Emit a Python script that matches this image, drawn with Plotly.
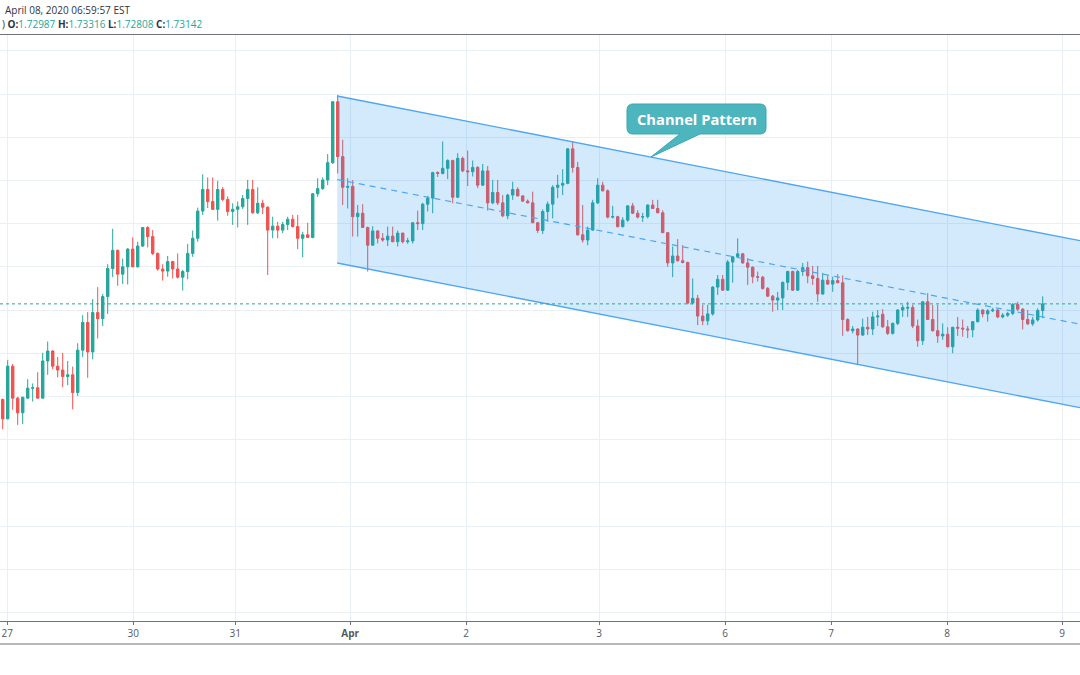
import plotly.graph_objects as go

# ---------------- data (hourly candles) ----------------
open_prices = [
    1.7093, 1.7048, 1.7170, 1.7096, 1.7062, 1.7096, 1.7119, 1.7120, 1.7096, 1.7182,
    1.7205, 1.7170, 1.7161, 1.7146, 1.7150, 1.7109, 1.7207, 1.7271, 1.7203, 1.7294,
    1.7280, 1.7331, 1.7396, 1.7438, 1.7383, 1.7400, 1.7441, 1.7400, 1.7448, 1.7491,
    1.7470, 1.7431, 1.7395, 1.7390, 1.7412, 1.7395, 1.7376, 1.7389, 1.7431, 1.7466,
    1.7529, 1.7579, 1.7551, 1.7533, 1.7579, 1.7556, 1.7528, 1.7533, 1.7539, 1.7558,
    1.7579, 1.7525, 1.7547, 1.7538, 1.7485, 1.7494, 1.7485, 1.7498, 1.7510, 1.7493,
    1.7466, 1.7474, 1.7468, 1.7569, 1.7581, 1.7601, 1.7641, 1.7782, 1.7655, 1.7584,
    1.7586, 1.7516, 1.7524, 1.7491, 1.7450, 1.7483, 1.7466, 1.7462, 1.7471, 1.7458,
    1.7478, 1.7458, 1.7460, 1.7502, 1.7500, 1.7545, 1.7559, 1.7618, 1.7616, 1.7628,
    1.7646, 1.7561, 1.7651, 1.7622, 1.7620, 1.7630, 1.7589, 1.7622, 1.7548, 1.7572,
    1.7548, 1.7518, 1.7566, 1.7579, 1.7564, 1.7552, 1.7548, 1.7502, 1.7484, 1.7528,
    1.7545, 1.7584, 1.7589, 1.7593, 1.7673, 1.7630, 1.7474, 1.7462, 1.7485, 1.7548,
    1.7589, 1.7576, 1.7515, 1.7516, 1.7493, 1.7508, 1.7541, 1.7524, 1.7515, 1.7516,
    1.7543, 1.7535, 1.7525, 1.7479, 1.7409, 1.7425, 1.7414, 1.7410, 1.7316, 1.7327,
    1.7286, 1.7275, 1.7291, 1.7353, 1.7371, 1.7346, 1.7411, 1.7423, 1.7430, 1.7409,
    1.7399, 1.7377, 1.7376, 1.7350, 1.7332, 1.7323, 1.7328, 1.7364, 1.7389, 1.7346,
    1.7389, 1.7398, 1.7379, 1.7373, 1.7337, 1.7369, 1.7360, 1.7368, 1.7363, 1.7278,
    1.7252, 1.7256, 1.7242, 1.7260, 1.7256, 1.7284, 1.7290, 1.7261, 1.7246, 1.7269,
    1.7300, 1.7304, 1.7306, 1.7263, 1.7229, 1.7319, 1.7278, 1.7252, 1.7240, 1.7244,
    1.7215, 1.7260, 1.7258, 1.7256, 1.7254, 1.7273, 1.7300, 1.7291, 1.7298, 1.7300,
    1.7284, 1.7288, 1.7292, 1.7313, 1.7302, 1.7278, 1.7268, 1.7277, 1.72987,
]
high_prices = [
    1.7095, 1.7184, 1.7175, 1.7099, 1.7099, 1.7140, 1.7130, 1.7156, 1.7201, 1.7227,
    1.7207, 1.7191, 1.7201, 1.7182, 1.7169, 1.7223, 1.7288, 1.7295, 1.7325, 1.7353,
    1.7337, 1.7406, 1.7488, 1.7440, 1.7419, 1.7443, 1.7468, 1.7458, 1.7492, 1.7494,
    1.7485, 1.7433, 1.7406, 1.7425, 1.7414, 1.7431, 1.7393, 1.7453, 1.7484, 1.7537,
    1.7614, 1.7607, 1.7607, 1.7599, 1.7585, 1.7563, 1.7547, 1.7551, 1.7566, 1.7601,
    1.7601, 1.7584, 1.7555, 1.7540, 1.7516, 1.7504, 1.7504, 1.7516, 1.7520, 1.7520,
    1.7481, 1.7502, 1.7571, 1.7605, 1.7607, 1.7661, 1.7783, 1.7798, 1.7694, 1.7605,
    1.7601, 1.7543, 1.7545, 1.7493, 1.7494, 1.7485, 1.7478, 1.7493, 1.7493, 1.7484,
    1.7479, 1.7467, 1.7503, 1.7530, 1.7548, 1.7564, 1.7620, 1.7621, 1.7690, 1.7649,
    1.7648, 1.7663, 1.7655, 1.7669, 1.7646, 1.7633, 1.7638, 1.7633, 1.7601, 1.7601,
    1.7566, 1.7569, 1.7597, 1.7584, 1.7566, 1.7556, 1.7574, 1.7504, 1.7533, 1.7551,
    1.7589, 1.7613, 1.7626, 1.7675, 1.7690, 1.7643, 1.7543, 1.7493, 1.7555, 1.7605,
    1.7597, 1.7579, 1.7541, 1.7518, 1.7515, 1.7543, 1.7548, 1.7531, 1.7525, 1.7544,
    1.7555, 1.7555, 1.7531, 1.7480, 1.7447, 1.7464, 1.7450, 1.7412, 1.7373, 1.7335,
    1.7312, 1.7312, 1.7355, 1.7381, 1.7381, 1.7416, 1.7425, 1.7466, 1.7432, 1.7420,
    1.7401, 1.7389, 1.7379, 1.7353, 1.7335, 1.7342, 1.7366, 1.7391, 1.7391, 1.7393,
    1.7409, 1.7412, 1.7402, 1.7402, 1.7386, 1.7379, 1.7377, 1.7383, 1.7380, 1.7281,
    1.7263, 1.7258, 1.7280, 1.7284, 1.7296, 1.7300, 1.7302, 1.7277, 1.7271, 1.7302,
    1.7312, 1.7319, 1.7312, 1.7278, 1.7320, 1.7339, 1.7312, 1.7312, 1.7269, 1.7260,
    1.7261, 1.7284, 1.7278, 1.7263, 1.7274, 1.7304, 1.7302, 1.7302, 1.7305, 1.7302,
    1.7293, 1.7296, 1.7316, 1.7319, 1.7304, 1.7300, 1.7284, 1.7304, 1.73316,
]
low_prices = [
    1.7024, 1.7047, 1.7069, 1.7034, 1.7036, 1.7095, 1.7088, 1.7095, 1.7095, 1.7150,
    1.7163, 1.7144, 1.7121, 1.7126, 1.7070, 1.7101, 1.7191, 1.7143, 1.7186, 1.7234,
    1.7263, 1.7291, 1.7376, 1.7356, 1.7360, 1.7359, 1.7399, 1.7398, 1.7446, 1.7445,
    1.7427, 1.7391, 1.7368, 1.7377, 1.7373, 1.7373, 1.7345, 1.7371, 1.7423, 1.7458,
    1.7520, 1.7536, 1.7532, 1.7507, 1.7552, 1.7518, 1.7497, 1.7491, 1.7534, 1.7497,
    1.7523, 1.7522, 1.7522, 1.7381, 1.7466, 1.7466, 1.7478, 1.7485, 1.7491, 1.7441,
    1.7422, 1.7467, 1.7466, 1.7562, 1.7578, 1.7589, 1.7638, 1.7616, 1.7543, 1.7535,
    1.7470, 1.7470, 1.7490, 1.7389, 1.7449, 1.7454, 1.7458, 1.7448, 1.7457, 1.7447,
    1.7454, 1.7453, 1.7454, 1.7485, 1.7485, 1.7528, 1.7524, 1.7608, 1.7614, 1.7603,
    1.7547, 1.7559, 1.7619, 1.7587, 1.7609, 1.7582, 1.7587, 1.7530, 1.7545, 1.7543,
    1.7515, 1.7510, 1.7555, 1.7563, 1.7551, 1.7547, 1.7501, 1.7478, 1.7476, 1.7504,
    1.7512, 1.7559, 1.7566, 1.7591, 1.7618, 1.7472, 1.7456, 1.7450, 1.7483, 1.7545,
    1.7574, 1.7512, 1.7512, 1.7491, 1.7491, 1.7504, 1.7522, 1.7512, 1.7504, 1.7512,
    1.7534, 1.7524, 1.7478, 1.7400, 1.7376, 1.7412, 1.7408, 1.7313, 1.7313, 1.7265,
    1.7265, 1.7265, 1.7287, 1.7335, 1.7344, 1.7344, 1.7363, 1.7421, 1.7407, 1.7358,
    1.7362, 1.7366, 1.7347, 1.7330, 1.7296, 1.7300, 1.7300, 1.7346, 1.7344, 1.7344,
    1.7379, 1.7362, 1.7358, 1.7319, 1.7335, 1.7358, 1.7342, 1.7362, 1.7240, 1.7250,
    1.7246, 1.7175, 1.7240, 1.7242, 1.7242, 1.7263, 1.7259, 1.7242, 1.7243, 1.7265,
    1.7284, 1.7284, 1.7258, 1.7215, 1.7219, 1.7277, 1.7250, 1.7224, 1.7231, 1.7213,
    1.7200, 1.7240, 1.7238, 1.7235, 1.7237, 1.7271, 1.7283, 1.7273, 1.7295, 1.7281,
    1.7281, 1.7284, 1.7288, 1.7298, 1.7255, 1.7265, 1.7263, 1.7273, 1.72808,
]
close_prices = [
    1.7048, 1.7170, 1.7096, 1.7062, 1.7098, 1.7119, 1.7120, 1.7096, 1.7182, 1.7205,
    1.7170, 1.7161, 1.7146, 1.7150, 1.7109, 1.7207, 1.7271, 1.7203, 1.7294, 1.7280,
    1.7331, 1.7396, 1.7438, 1.7383, 1.7400, 1.7441, 1.7400, 1.7448, 1.7491, 1.7470,
    1.7431, 1.7395, 1.7390, 1.7412, 1.7395, 1.7376, 1.7389, 1.7431, 1.7466, 1.7529,
    1.7579, 1.7551, 1.7533, 1.7579, 1.7556, 1.7528, 1.7533, 1.7539, 1.7558, 1.7579,
    1.7525, 1.7547, 1.7538, 1.7485, 1.7494, 1.7485, 1.7498, 1.7510, 1.7493, 1.7466,
    1.7474, 1.7468, 1.7569, 1.7581, 1.7601, 1.7641, 1.7782, 1.7655, 1.7584, 1.7586,
    1.7516, 1.7524, 1.7491, 1.7450, 1.7483, 1.7466, 1.7462, 1.7471, 1.7458, 1.7478,
    1.7458, 1.7460, 1.7502, 1.7500, 1.7545, 1.7559, 1.7618, 1.7616, 1.7628, 1.7646,
    1.7561, 1.7651, 1.7622, 1.7620, 1.7630, 1.7589, 1.7622, 1.7548, 1.7572, 1.7548,
    1.7518, 1.7566, 1.7579, 1.7564, 1.7552, 1.7548, 1.7502, 1.7484, 1.7528, 1.7545,
    1.7584, 1.7589, 1.7593, 1.7673, 1.7630, 1.7474, 1.7462, 1.7485, 1.7548, 1.7589,
    1.7576, 1.7515, 1.7516, 1.7493, 1.7508, 1.7541, 1.7524, 1.7515, 1.7516, 1.7543,
    1.7535, 1.7525, 1.7479, 1.7409, 1.7425, 1.7414, 1.7410, 1.7316, 1.7327, 1.7286,
    1.7275, 1.7291, 1.7353, 1.7371, 1.7346, 1.7411, 1.7423, 1.7430, 1.7409, 1.7399,
    1.7377, 1.7376, 1.7350, 1.7332, 1.7323, 1.7328, 1.7364, 1.7389, 1.7346, 1.7389,
    1.7398, 1.7379, 1.7373, 1.7337, 1.7369, 1.7360, 1.7368, 1.7363, 1.7278, 1.7252,
    1.7256, 1.7242, 1.7260, 1.7256, 1.7284, 1.7286, 1.7261, 1.7246, 1.7269, 1.7300,
    1.7306, 1.7306, 1.7263, 1.7229, 1.7319, 1.7278, 1.7252, 1.7240, 1.7244, 1.7215,
    1.7260, 1.7258, 1.7256, 1.7254, 1.7273, 1.7300, 1.7291, 1.7298, 1.7300, 1.7284,
    1.7288, 1.7292, 1.7313, 1.7302, 1.7278, 1.7268, 1.7277, 1.7299, 1.73142,
]
bar_index = list(range(len(open_prices)))

# day labels of the time axis (bar positions)
tick_positions = [0.9, 26.1, 46.5, 69.5, 92.7, 119.3, 144.5, 165.7, 188.9, 211.9]
tick_labels = ["27", "30", "31", "<b>Apr</b>", "2", "3", "6", "7", "8", "9"]

# parallel channel drawing (bar position, price)
channel_x = [66.9, 215.46]
channel_upper = [1.77954, 1.74604]
channel_lower = [1.74088, 1.70738]
channel_mid = [(u + l) / 2 for u, l in zip(channel_upper, channel_lower)]

header_time = "April 08, 2020 06:59:57 EST"
last_ohlc = {"O": "1.72987", "H": "1.73316", "L": "1.72808", "C": "1.73142"}
callout_text = "Channel Pattern"

# ---------------- figure ----------------
UP = "#26a69a"
DOWN = "#ef5350"
CH = "#4ea5f2"
GRID = "#e9eff5"
AXIS = "#6f727c"

W, H = 1080, 675
ML, MR, MT, MB = 0, 0, 35, 54
PW, PH = W - ML - MR, H - MT - MB


def px_x(px):
    return (px - ML) / PW


def px_y(py):
    return (MT + PH - py) / PH


fig = go.Figure()

fig.add_trace(go.Scatter(
    x=[channel_x[0], channel_x[1], channel_x[1], channel_x[0], channel_x[0]],
    y=[channel_upper[0], channel_upper[1], channel_lower[1], channel_lower[0], channel_upper[0]],
    fill="toself", fillcolor="rgba(33,150,243,0.2)", mode="lines",
    line=dict(width=0), hoverinfo="skip", showlegend=False))

fig.add_trace(go.Candlestick(
    x=bar_index, open=open_prices, high=high_prices, low=low_prices, close=close_prices,
    increasing=dict(line=dict(color=UP, width=1), fillcolor=UP),
    decreasing=dict(line=dict(color=DOWN, width=1), fillcolor=DOWN),
    whiskerwidth=0, showlegend=False, hoverinfo="skip"))

fig.add_trace(go.Scatter(x=channel_x, y=channel_upper, mode="lines",
                         line=dict(color=CH, width=1.3), hoverinfo="skip", showlegend=False))
fig.add_trace(go.Scatter(x=channel_x, y=channel_lower, mode="lines",
                         line=dict(color=CH, width=1.3), hoverinfo="skip", showlegend=False))
fig.add_trace(go.Scatter(x=channel_x, y=channel_mid, mode="lines",
                         line=dict(color=CH, width=1.2, dash="6px,5px"),
                         hoverinfo="skip", showlegend=False))

# current price dotted line
fig.add_shape(type="line", xref="paper", x0=0, x1=1, yref="y",
              y0=close_prices[-1], y1=close_prices[-1],
              line=dict(color=UP, width=1, dash="dot"), layer="above")

# bottom border of the time scale
fig.add_shape(type="line", xref="paper", yref="paper", x0=0, x1=1,
              y0=px_y(644), y1=px_y(644), line=dict(color=AXIS, width=1))

# callout box with tail
bx0, bx1, by0, by1, r = 627, 766, 104, 134, 6
tail_l, tail_r, tip_x, tip_y = 680, 700, 651, 157
pts = []
def P(cmd, *xy):
    s = cmd
    for i in range(0, len(xy), 2):
        s += " %.5f,%.5f" % (px_x(xy[i]), px_y(xy[i + 1]))
    pts.append(s)

P("M", bx0 + r, by0)
P("L", bx1 - r, by0)
P("Q", bx1, by0, bx1, by0 + r)
P("L", bx1, by1 - r)
P("Q", bx1, by1, bx1 - r, by1)
P("L", tail_r, by1)
P("L", tip_x, tip_y)
P("L", tail_l, by1)
P("L", bx0 + r, by1)
P("Q", bx0, by1, bx0, by1 - r)
P("L", bx0, by0 + r)
P("Q", bx0, by0, bx0 + r, by0)
fig.add_shape(type="path", xref="paper", yref="paper", path=" ".join(pts) + " Z",
              fillcolor="#4cb5be", line=dict(color="#3ba7b0", width=1), layer="above")

fig.add_annotation(x=px_x((bx0 + bx1) / 2), y=px_y((by0 + by1) / 2), xref="paper", yref="paper",
                   text="<b>%s</b>" % callout_text, showarrow=False,
                   font=dict(family="Open Sans", size=14.7, color="white"),
                   xanchor="center", yanchor="middle")

# header texts
fig.add_annotation(x=px_x(3), y=px_y(10.5), xref="paper", yref="paper",
                   text=header_time, showarrow=False, xanchor="left", yanchor="middle",
                   font=dict(family="Open Sans", size=10, color="#2f3241"))
parts = []
for k, v in last_ohlc.items():
    parts.append("<b>%s:</b><span style='color:%s'>%s</span>" % (k, UP, v))
fig.add_annotation(x=px_x(-0.5), y=px_y(24.5), xref="paper", yref="paper",
                   text=") " + " ".join(parts), showarrow=False, xanchor="left", yanchor="middle",
                   font=dict(family="Open Sans", size=10, color="#2f3241"))

fig.update_layout(
    width=W, height=H, autosize=False,
    margin=dict(l=ML, r=MR, t=MT, b=MB, pad=0),
    paper_bgcolor="white", plot_bgcolor="white",
    showlegend=False,
    xaxis=dict(
        range=[-0.54, 215.46], tickmode="array", tickvals=tick_positions, ticktext=tick_labels,
        showgrid=True, gridcolor=GRID, gridwidth=1, zeroline=False,
        showline=True, linecolor=AXIS, linewidth=1, mirror=True,
        ticks="outside", ticklen=3, tickcolor=AXIS,
        tickfont=dict(family="Open Sans", size=10, color="#55585f"),
        rangeslider=dict(visible=False), fixedrange=True),
    yaxis=dict(
        range=[1.658009, 1.793657], tick0=1.66, dtick=0.01,
        showticklabels=False, showgrid=True, gridcolor=GRID, gridwidth=1,
        zeroline=False, showline=False, ticks="", fixedrange=True),
)

fig.write_html("out.html")
